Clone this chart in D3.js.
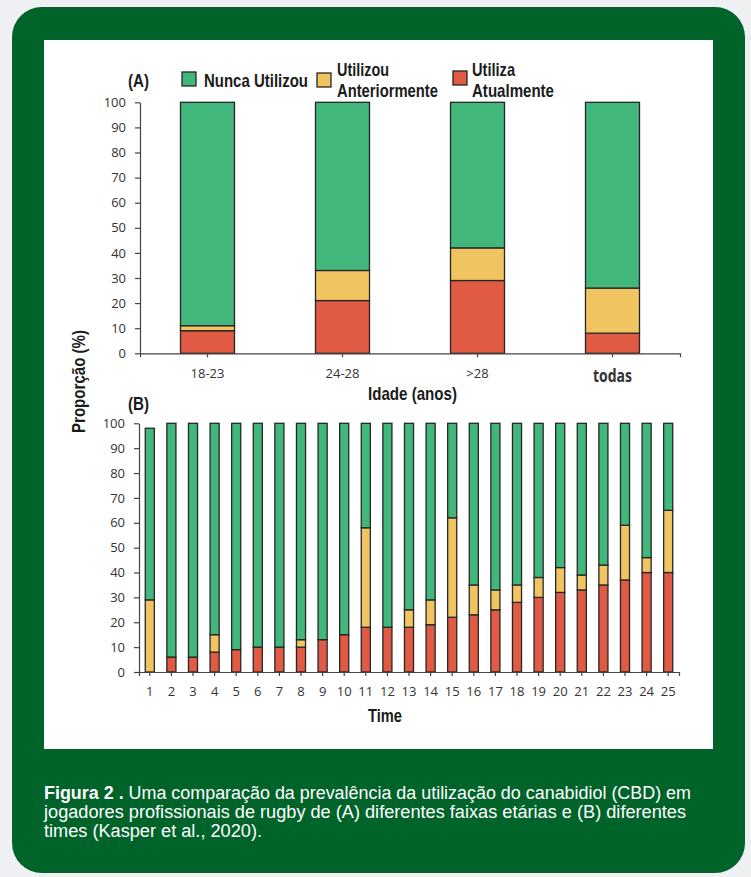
<!DOCTYPE html>
<html>
<head>
<meta charset="utf-8">
<script src="https://cdn.jsdelivr.net/npm/d3@7"></script>
<style>
  html, body { margin: 0; padding: 0; background: #eef0f1; }
  svg { display: block; }
  .tick text { font-family: "Open Sans", sans-serif; font-size: 13px; fill: #333; }
  .cond { font-family: "Liberation Sans Narrow", "Liberation Sans", Arial, sans-serif; font-weight: bold; fill: #1b1b1b; }
</style>
</head>
<body>
<svg id="chart" width="751" height="877"></svg>
<script>
// Panel A: CBD use by age group (%)
const ageGroups = ["18-23", "24-28", ">28", "todas"];
const ageAtual = [9, 21, 29, 8];
const ageAnterior = [2, 12, 13, 18];
const ageNunca = [89, 67, 58, 74];

// Panel B: CBD use by team (%)
const teams = ["1","2","3","4","5","6","7","8","9","10","11","12","13","14","15","16","17","18","19","20","21","22","23","24","25"];
const teamAtual = [0, 6, 6, 8, 9, 10, 10, 10, 13, 15, 18, 18, 18, 19, 22, 23, 25, 28, 30, 32, 33, 35, 37, 40, 40];
const teamAnterior = [29, 0, 0, 7, 0, 0, 0, 3, 0, 0, 40, 0, 7, 10, 40, 12, 8, 7, 8, 10, 6, 8, 22, 6, 25];
const teamNunca = [69, 94, 94, 85, 91, 90, 90, 87, 87, 85, 42, 82, 75, 71, 38, 65, 67, 65, 62, 58, 61, 57, 41, 54, 35];

const yTicks = [0, 10, 20, 30, 40, 50, 60, 70, 80, 90, 100];
const seriesKeys = ["atual", "anterior", "nunca"];
const seriesNames = { nunca: "Nunca Utilizou", anterior: ["Utilizou", "Anteriormente"], atual: ["Utiliza", "Atualmente"] };
const colors = { atual: "#e05a44", anterior: "#f1c462", nunca: "#41b77c" };

const svg = d3.select("#chart");

// Frame and white chart area
svg.append("rect").attr("x", 12).attr("y", 7).attr("width", 733).attr("height", 866)
  .attr("rx", 30).attr("fill", "#00632a");
svg.append("rect").attr("x", 44).attr("y", 40).attr("width", 669).attr("height", 709).attr("fill", "#ffffff");

function rows(cats, atual, anterior, nunca) {
  return cats.map((c, i) => ({ cat: c, atual: atual[i], anterior: anterior[i], nunca: nunca[i] }));
}

function drawPanel(cfg) {
  const x = d3.scaleBand().domain(cfg.cats).range([cfg.x0, cfg.x1])
    .paddingInner(cfg.padIn).paddingOuter(cfg.padOut);
  const y = d3.scaleLinear().domain([0, 100]).range([cfg.yBottom, cfg.yTop]);
  const data = rows(cfg.cats, cfg.atual, cfg.anterior, cfg.nunca);
  const stacked = d3.stack().keys(seriesKeys)(data);

  const g = svg.append("g");
  stacked.forEach(s => {
    g.append("g").selectAll("rect")
      .data(s.filter(d => d[1] - d[0] > 0))
      .join("rect")
      .attr("x", d => x(d.data.cat))
      .attr("width", x.bandwidth())
      .attr("y", d => y(d[1]))
      .attr("height", d => y(d[0]) - y(d[1]))
      .attr("fill", colors[s.key])
      .attr("stroke", "#262626")
      .attr("stroke-width", 1.3);
  });

  const yAxis = g.append("g").attr("transform", `translate(${cfg.x0},0)`)
    .call(d3.axisLeft(y).tickValues(yTicks).tickSize(5).tickSizeOuter(0).tickPadding(9));
  const xAxis = g.append("g").attr("transform", `translate(0,${cfg.yBottom})`)
    .call(d3.axisBottom(x).tickSize(4).tickSizeOuter(4).tickPadding(11));
  [yAxis, xAxis].forEach(a => {
    a.selectAll("path, line").attr("stroke", "#444").attr("stroke-width", 1.2);
  });
  return { g, x, y, xAxis };
}

// ---- Panel A ----
const A = drawPanel({ cats: ageGroups, atual: ageAtual, anterior: ageAnterior, nunca: ageNunca,
  x0: 140, x1: 680, padIn: 0.6, padOut: 0.3, yBottom: 353.3, yTop: 102.3 });
A.xAxis.selectAll(".tick text").filter(d => d === "todas")
  .attr("class", "cond").style("font-size", "18px").attr("dy", "0.78em")
  .attr("textLength", 39).attr("lengthAdjust", "spacingAndGlyphs");

function condText(str, x, y, size, width, anchor) {
  return svg.append("text").attr("class", "cond").attr("x", x).attr("y", y)
    .attr("text-anchor", anchor || "start").style("font-size", size + "px")
    .attr("textLength", width).attr("lengthAdjust", "spacingAndGlyphs").text(str);
}

condText("(A)", 128, 86.5, 19, 21);

// Legend
const legendItems = [
  { key: "nunca", bx: 182, by: 72, tx: 204 },
  { key: "anterior", bx: 317, by: 73, tx: 337 },
  { key: "atual", bx: 453, by: 71, tx: 472 }
];
const legendWidths = { nunca: [104], anterior: [52, 101], atual: [43, 82] };
legendItems.forEach(it => {
  svg.append("rect").attr("x", it.bx).attr("y", it.by).attr("width", 14).attr("height", 14)
    .attr("fill", colors[it.key]).attr("stroke", "#262626").attr("stroke-width", 1.3);
  const name = seriesNames[it.key];
  if (Array.isArray(name)) {
    name.forEach((line, i) => condText(line, it.tx, 75.7 + i * 21, 19, legendWidths[it.key][i]));
  } else {
    condText(name, it.tx, 86.5, 19, legendWidths[it.key][0]);
  }
});

condText("Idade (anos)", 412.5, 400, 19, 89, "middle");

// Shared y-axis title
svg.append("text").attr("class", "cond")
  .attr("transform", "translate(85,381.5) rotate(-90)")
  .attr("text-anchor", "middle").style("font-size", "18px")
  .attr("textLength", 103).attr("lengthAdjust", "spacingAndGlyphs")
  .text("Proporção (%)");

// ---- Panel B ----
condText("(B)", 128, 409.5, 19, 21);
const B = drawPanel({ cats: teams, atual: teamAtual, anterior: teamAnterior, nunca: teamNunca,
  x0: 139, x1: 679, padIn: 0.58, padOut: 0.29, yBottom: 672, yTop: 423.3 });
condText("Time", 385, 722, 19, 34, "middle");

// Caption
const capLines = [
  { bold: "Figura 2 .", text: " Uma comparação da prevalência da utilização do canabidiol (CBD) em", w: 647 },
  { text: "jogadores profissionais de rugby de (A) diferentes faixas etárias e (B) diferentes", w: 642 },
  { text: "times (Kasper et al., 2020).", w: 218 }
];
capLines.forEach((l, i) => {
  const t = svg.append("text").attr("x", 44).attr("y", 799 + i * 19)
    .style("font-family", '"Liberation Sans Narrow", "Liberation Sans", Arial, sans-serif')
    .style("font-size", "18px").attr("fill", "#ffffff")
    .attr("textLength", l.w).attr("lengthAdjust", "spacingAndGlyphs");
  if (l.bold) t.append("tspan").style("font-weight", "bold").text(l.bold);
  t.append("tspan").text(l.text);
});
</script>
</body>
</html>
